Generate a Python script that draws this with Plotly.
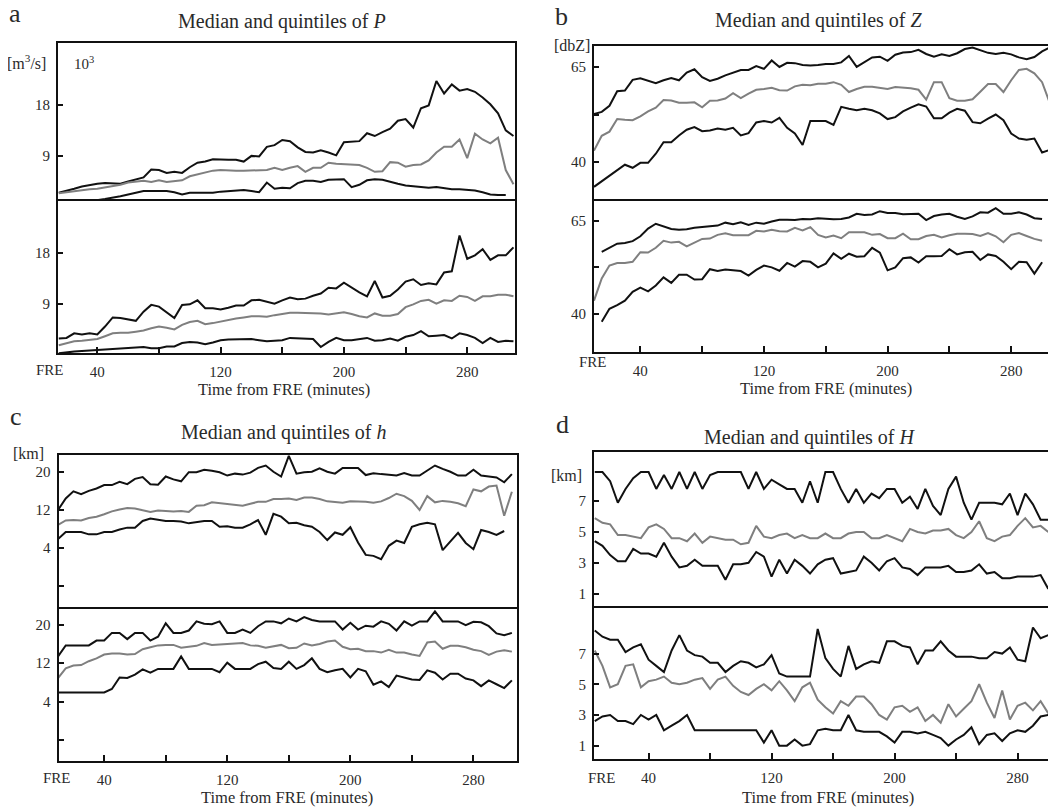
import plotly.graph_objects as go

W, H = 1056, 808          # reference picture size
OFF = 8                   # page body margin in the browser
FW, FH = W - OFF, H - OFF  # figure size so that it ends at the window edge

# time axes (minutes from FRE)
T_A = list(range(15, 311, 5))
T_B = list(range(10, 306, 5))
T_C = list(range(10, 306, 5))
T_D = list(range(5, 301, 5))

# ---- panel a : P [10^3 m3/s] ----
A_TOP_HI = [2.5, 2.8, 3.2, 3.6, 3.9, 4.1, 4.2, 4.1, 4.1, 4.5, 4.9, 5.2, 6.6, 6.5, 6.0,
            6.2, 6.0, 7.0, 7.8, 8.0, 8.4, 8.3, 8.3, 8.3, 8.0, 9.0, 8.9, 10.6, 10.9, 11.8,
            11.6, 10.5, 9.7, 9.6, 10.0, 9.6, 9.1, 11.4, 11.5, 11.6, 13.0, 12.5, 13.2, 13.8, 15.2,
            15.5, 14.0, 17.4, 17.9, 22.2, 20.0, 21.6, 20.5, 20.8, 20.3, 19.3, 18.1, 16.5, 13.5, 12.5]
A_TOP_MED = [2.4, 2.6, 2.7, 2.9, 3.1, 3.2, 3.4, 3.6, 3.9, 4.3, 4.5, 4.6, 4.4, 4.7, 4.4,
             4.5, 4.7, 5.4, 5.7, 6.0, 6.4, 6.5, 6.4, 6.4, 6.4, 6.4, 6.5, 6.5, 6.9, 6.5,
             6.9, 7.2, 6.2, 6.9, 6.9, 7.8, 7.6, 7.5, 7.4, 7.4, 6.9, 6.2, 6.3, 7.9, 7.8,
             7.1, 7.4, 7.5, 8.2, 9.6, 10.6, 10.6, 11.9, 8.6, 12.9, 11.9, 11.2, 12.2, 6.5, 4.0]
A_TOP_LO = [1.0, 1.0, 1.1, 1.1, 1.2, 1.2, 1.4, 1.6, 1.9, 2.2, 2.5, 2.8, 2.8, 2.8, 2.8,
            2.6, 2.2, 2.5, 2.5, 2.4, 2.5, 2.7, 2.8, 2.9, 3.0, 2.8, 2.6, 4.3, 3.2, 3.4,
            3.3, 4.2, 4.6, 4.6, 4.4, 4.8, 4.9, 4.9, 3.5, 3.9, 4.7, 4.9, 4.8, 4.4, 4.1,
            3.8, 3.7, 3.5, 3.4, 3.5, 3.3, 3.1, 3.1, 3.0, 2.9, 2.6, 2.2, 2.1, 2.1, None]
A_BOT_HI = [2.9, 3.0, 3.8, 3.6, 3.8, 3.6, 5.0, 6.6, 6.5, 6.3, 6.0, 7.6, 8.8, 8.5, 7.5,
            6.5, 8.8, 8.9, 9.6, 8.2, 8.2, 8.0, 8.3, 8.7, 8.7, 9.6, 9.7, 9.3, 9.0, 9.6,
            10.1, 9.8, 9.9, 10.4, 10.8, 11.8, 11.7, 12.7, 11.8, 11.0, 10.3, 13.0, 10.1, 10.4, 11.5,
            12.9, 13.3, 12.3, 12.6, 12.4, 14.5, 14.7, 21.0, 16.9, 17.5, 18.6, 16.7, 17.5, 17.5, 18.9]
A_BOT_MED = [1.7, 2.1, 2.4, 2.5, 2.6, 2.8, 3.3, 3.8, 3.9, 3.9, 4.1, 4.3, 4.7, 5.0, 4.8,
             4.5, 5.3, 5.8, 6.0, 5.4, 5.6, 5.9, 6.1, 6.4, 6.6, 6.8, 6.8, 6.7, 7.0, 7.2,
             7.4, 7.4, 7.4, 7.4, 7.3, 7.1, 7.3, 7.5, 7.2, 6.8, 6.6, 7.3, 6.9, 6.9, 7.2,
             8.4, 8.9, 9.5, 9.7, 9.0, 9.6, 9.5, 10.4, 10.2, 9.5, 10.3, 10.3, 10.6, 10.6, 10.3]
A_BOT_LO = [0.3, 0.5, 0.6, 0.7, 0.8, 0.8, 0.9, 1.0, 1.1, 1.2, 1.3, 1.4, 1.2, 1.2, 1.5,
            1.5, 2.1, 2.3, 2.2, 1.9, 2.2, 2.6, 2.7, 2.7, 2.7, 2.8, 2.6, 2.4, 2.5, 2.6,
            3.0, 2.9, 2.9, 2.8, 1.4, 2.3, 3.0, 2.6, 2.6, 2.8, 3.0, 2.5, 2.6, 2.9, 2.5,
            3.2, 3.5, 4.2, 3.3, 3.4, 3.5, 2.9, 3.8, 3.5, 3.0, 2.1, 3.0, 2.3, 2.5, 2.4]

# ---- panel b : Z [dbZ] ----
B_TOP_HI = [52.6, 53.2, 54.8, 58.6, 58.8, 61.6, 62.0, 61.3, 60.7, 61.5, 62.1, 61.5, 63.5, 64.4, 62.3,
            61.3, 61.9, 62.8, 63.6, 64.2, 64.2, 65.2, 64.5, 66.7, 65.0, 66.1, 66.0, 65.5, 65.4, 65.5,
            65.8, 65.8, 66.2, 67.9, 65.0, 66.2, 67.5, 67.7, 66.6, 68.2, 68.8, 68.9, 69.5, 68.4, 67.7,
            68.3, 67.9, 68.6, 69.7, 70.1, 69.3, 68.7, 68.4, 68.7, 68.3, 67.5, 67.0, 67.6, 69.1, 70.1]
B_TOP_MED = [43.0, 46.9, 48.0, 51.3, 51.1, 51.0, 52.0, 53.3, 54.3, 56.3, 56.2, 55.6, 55.6, 55.7, 54.4,
             56.1, 56.2, 56.7, 58.1, 56.8, 58.0, 59.0, 59.2, 59.5, 58.9, 58.8, 59.9, 60.3, 60.2, 60.6,
             60.6, 61.0, 60.3, 58.4, 59.2, 59.8, 59.8, 59.6, 59.2, 59.7, 59.6, 59.4, 59.0, 56.4, 61.0,
             61.0, 56.8, 56.1, 56.1, 56.5, 58.5, 60.5, 60.5, 58.4, 61.5, 64.2, 64.5, 63.3, 61.0, 55.5]
B_TOP_LO = [33.5, 35.0, 36.3, 37.9, 39.3, 38.5, 39.8, 39.8, 42.2, 45.2, 45.2, 47.0, 48.5, 49.2, 48.1,
            48.3, 48.8, 48.5, 49.0, 47.0, 47.6, 50.4, 50.8, 50.4, 51.6, 49.0, 47.5, 44.5, 50.8, 50.8,
            50.8, 49.8, 54.5, 54.0, 53.6, 54.0, 53.6, 52.8, 51.3, 51.8, 53.3, 54.3, 55.2, 54.6, 51.5,
            51.5, 53.0, 54.0, 53.5, 50.5, 50.2, 51.4, 52.5, 51.0, 47.5, 46.2, 45.9, 46.2, 42.5, 43.2]
B_BOT_HI = [None, 56.7, 57.8, 58.9, 59.1, 59.6, 60.9, 63.0, 64.3, 63.6, 62.9, 62.7, 62.8, 63.2, 63.4,
            63.7, 63.8, 64.6, 64.2, 64.7, 64.0, 64.6, 64.3, 64.9, 65.4, 65.4, 65.3, 65.6, 65.5, 65.8,
            65.6, 65.5, 65.6, 66.0, 67.0, 66.7, 66.8, 67.7, 67.2, 67.2, 66.9, 67.0, 67.0, 65.3, 66.4,
            66.8, 67.0, 66.2, 65.6, 66.3, 67.4, 67.3, 68.5, 67.0, 67.0, 67.4, 66.8, 65.8, 65.6, None]
B_BOT_MED = [43.5, 49.5, 53.0, 53.7, 53.7, 54.0, 56.6, 56.5, 57.8, 59.7, 59.2, 59.4, 58.2, 59.2, 60.2,
             60.3, 61.3, 61.7, 61.2, 61.2, 61.2, 62.4, 62.2, 62.7, 62.3, 62.2, 63.2, 62.5, 63.4, 61.3,
             60.6, 61.1, 60.4, 62.0, 62.1, 62.0, 61.3, 61.5, 60.4, 60.4, 61.6, 60.1, 60.1, 61.0, 61.3,
             60.6, 61.2, 61.6, 61.6, 61.5, 61.0, 61.8, 60.9, 59.3, 61.3, 61.8, 61.0, 60.2, 59.7, None]
B_BOT_LO = [None, 37.8, 41.3, 42.3, 43.5, 45.9, 47.0, 46.0, 47.6, 49.8, 48.3, 50.5, 50.5, 49.2, 49.3,
            52.0, 51.5, 51.9, 51.8, 51.5, 50.3, 51.8, 53.0, 52.5, 51.6, 53.7, 52.7, 54.2, 54.0, 52.5,
            53.5, 56.3, 54.8, 56.2, 55.4, 55.5, 57.8, 56.5, 51.7, 52.5, 55.0, 55.2, 53.8, 55.5, 55.5,
            55.6, 57.4, 56.0, 56.6, 56.7, 54.5, 56.0, 55.6, 54.0, 52.0, 54.0, 53.9, 50.8, 53.9, None]

# ---- panel c : h [km] ----
C_TOP_HI = [12.0, 14.4, 15.9, 15.3, 16.0, 16.5, 17.2, 17.2, 17.9, 17.4, 18.5, 18.9, 17.4, 17.3, 19.0,
            18.4, 18.0, 19.9, 19.9, 20.4, 20.2, 19.9, 19.2, 19.6, 19.4, 19.8, 20.8, 21.3, 20.0, 19.0,
            23.3, 19.6, 19.9, 20.0, 20.7, 20.0, 19.6, 20.8, 20.8, 20.8, 19.3, 19.7, 19.5, 19.4, 19.2,
            19.7, 19.2, 19.2, 20.2, 21.3, 20.6, 20.0, 19.2, 19.2, 20.4, 19.2, 19.0, 18.8, 17.8, 19.5]
C_TOP_MED = [8.9, 9.8, 9.9, 9.8, 10.3, 10.6, 11.1, 11.7, 12.1, 12.4, 12.3, 12.0, 11.6, 11.9, 11.8,
             11.7, 11.8, 11.6, 12.9, 13.0, 13.6, 13.4, 13.2, 13.0, 12.9, 13.3, 13.7, 13.7, 14.3, 14.3,
             14.4, 14.1, 14.6, 14.6, 14.3, 13.8, 13.7, 13.5, 13.8, 13.8, 13.7, 13.5, 13.8, 14.5, 15.4,
             14.9, 13.9, 12.0, 14.9, 13.6, 13.9, 13.7, 13.4, 12.8, 16.3, 15.9, 16.9, 17.1, 10.8, 15.8]
C_TOP_LO = [5.9, 7.4, 7.4, 7.4, 6.9, 6.9, 7.4, 7.4, 7.9, 8.3, 8.3, 9.7, 10.2, 9.9, 9.7,
            9.7, 9.6, 9.2, 9.5, 9.7, 9.7, 8.5, 8.6, 8.3, 8.3, 9.0, 9.9, 6.8, 11.2, 10.6,
            9.2, 9.3, 8.8, 8.5, 7.4, 5.7, 7.3, 6.8, 8.4, 5.2, 2.6, 2.4, 1.7, 4.5, 5.6,
            5.1, 8.5, 9.0, 9.3, 9.0, 3.6, 5.4, 7.2, 5.1, 3.8, 7.8, 7.4, 6.8, 7.6, None]
C_BOT_HI = [13.4, 15.7, 15.7, 15.7, 15.7, 16.7, 16.7, 18.3, 18.3, 17.0, 18.3, 18.3, 16.7, 17.5, 20.3,
            18.3, 18.3, 18.8, 20.7, 20.2, 20.1, 20.7, 18.3, 18.3, 19.0, 18.3, 19.7, 20.7, 20.7, 20.3,
            21.3, 20.7, 21.6, 21.0, 20.7, 20.7, 20.7, 19.0, 20.4, 19.0, 19.8, 19.6, 20.7, 20.2, 18.8,
            20.7, 19.8, 20.7, 20.7, 22.8, 20.7, 20.7, 20.7, 19.9, 20.6, 20.5, 19.7, 18.2, 17.8, 18.3]
C_BOT_MED = [8.9, 10.9, 11.5, 11.6, 12.4, 13.0, 13.8, 14.0, 14.0, 13.8, 13.9, 14.9, 15.3, 15.7, 15.8,
             15.8, 15.2, 15.4, 15.6, 16.2, 15.8, 15.9, 16.0, 16.1, 16.2, 15.7, 15.6, 15.2, 15.5, 15.8,
             15.1, 15.2, 16.1, 15.7, 16.0, 16.5, 16.7, 15.4, 14.9, 15.0, 14.5, 14.5, 14.2, 14.8, 14.2,
             14.2, 13.8, 13.5, 16.3, 16.5, 15.0, 15.6, 15.6, 15.3, 14.8, 14.5, 13.7, 14.4, 14.7, 14.4]
C_BOT_LO = [5.9, 5.9, 5.9, 5.9, 5.9, 5.9, 5.9, 6.6, 9.0, 8.9, 9.6, 10.7, 10.0, 10.8, 10.8,
            10.8, 13.4, 10.8, 10.8, 10.8, 10.8, 10.1, 12.1, 10.8, 10.8, 10.8, 11.8, 12.3, 11.0, 10.8,
            12.3, 10.8, 11.6, 13.0, 10.8, 10.1, 10.5, 10.8, 9.0, 10.8, 10.3, 7.5, 8.2, 7.0, 9.4,
            9.0, 8.6, 8.5, 10.5, 10.0, 8.6, 9.8, 9.8, 8.8, 8.4, 7.2, 8.4, 7.6, 6.8, 8.4]

# ---- panel d : H [km] ----
D_TOP_HI = [8.9, 8.9, 8.3, 6.9, 7.8, 8.5, 8.9, 8.9, 7.8, 8.7, 7.8, 8.9, 7.8, 8.9, 7.8,
            8.7, 8.9, 8.9, 8.9, 8.9, 7.8, 8.9, 7.8, 8.4, 8.1, 7.8, 7.8, 6.9, 8.3, 6.9,
            8.9, 8.9, 7.8, 6.9, 7.8, 6.9, 7.5, 7.2, 7.8, 7.8, 6.9, 7.3, 6.5, 7.8, 6.7,
            6.1, 7.8, 8.6, 6.9, 5.8, 6.9, 6.9, 6.9, 6.8, 7.5, 6.1, 7.5, 6.8, 5.8, 5.8]
D_TOP_MED = [5.9, 5.6, 5.5, 4.8, 4.8, 4.7, 4.6, 5.3, 5.5, 5.2, 4.6, 4.6, 4.4, 4.9, 4.3,
             4.7, 4.6, 4.5, 4.5, 4.2, 4.3, 5.4, 4.7, 4.6, 4.8, 4.9, 4.6, 4.8, 4.6, 4.6,
             4.9, 4.6, 4.6, 4.9, 5.0, 5.0, 4.6, 4.6, 4.8, 4.6, 4.4, 5.2, 5.0, 4.9, 5.1,
             5.1, 5.2, 4.8, 4.6, 5.0, 5.7, 4.6, 4.4, 4.7, 4.8, 5.4, 5.9, 5.3, 5.4, 5.0]
D_TOP_LO = [4.4, 4.1, 3.5, 3.1, 3.1, 3.9, 3.6, 3.6, 3.4, 4.3, 3.4, 2.7, 2.8, 3.2, 2.8,
            2.8, 2.8, 1.9, 2.9, 2.9, 3.0, 3.7, 3.4, 2.1, 3.2, 2.3, 3.2, 2.8, 2.3, 2.9,
            3.2, 3.3, 2.3, 2.4, 2.5, 3.4, 3.0, 2.5, 3.1, 3.3, 2.7, 2.6, 2.2, 2.7, 2.7,
            2.7, 2.8, 2.4, 2.4, 2.5, 2.9, 2.3, 2.4, 2.0, 2.0, 2.1, 2.1, 2.1, 2.2, 1.3]
D_BOT_HI = [8.5, 8.1, 7.9, 7.9, 7.1, 7.4, 7.6, 6.6, 6.2, 5.8, 7.2, 8.2, 7.2, 6.9, 6.8,
            6.4, 6.4, 5.8, 6.2, 6.5, 6.4, 6.1, 6.3, 6.9, 5.7, 5.5, 5.5, 5.5, 5.5, 8.6,
            6.7, 6.0, 5.5, 7.5, 6.0, 6.3, 6.5, 6.4, 7.8, 7.8, 7.5, 7.4, 6.3, 7.2, 7.2,
            7.8, 7.2, 6.8, 6.8, 6.8, 6.7, 6.7, 7.1, 7.0, 7.4, 6.6, 6.5, 8.7, 8.0, 8.2]
D_BOT_MED = [7.2, 6.2, 4.8, 5.0, 6.2, 6.3, 4.8, 5.2, 5.3, 5.5, 5.1, 5.0, 5.1, 5.3, 5.4,
             4.7, 5.3, 5.5, 4.9, 4.5, 4.3, 4.7, 5.0, 4.6, 5.2, 4.6, 3.9, 4.8, 5.1, 4.0,
             3.5, 3.1, 3.9, 3.6, 4.2, 4.2, 3.7, 3.0, 2.7, 3.5, 3.6, 3.2, 3.5, 2.6, 3.0,
             2.5, 3.7, 2.9, 3.4, 3.9, 5.0, 3.8, 2.8, 4.6, 2.7, 3.6, 3.8, 3.3, 3.9, 3.1]
D_BOT_LO = [2.6, 2.9, 3.0, 2.6, 2.6, 2.4, 3.0, 2.7, 3.0, 2.0, 2.3, 2.6, 3.0, 2.0, 2.0,
            2.0, 2.0, 2.0, 2.0, 2.0, 2.0, 2.0, 1.2, 2.0, 1.0, 1.0, 1.4, 1.0, 1.1, 2.0,
            2.1, 2.0, 2.0, 3.0, 2.0, 1.9, 1.9, 1.9, 1.6, 1.2, 1.9, 1.9, 1.8, 1.9, 1.7,
            1.5, 1.0, 1.4, 1.7, 2.2, 1.1, 1.7, 1.8, 1.3, 1.8, 2.0, 1.9, 2.3, 2.9, 3.0]

X_TICKS = [40, 120, 200, 280]
X_MINOR = [80, 160, 240]

BLACK = "#111111"
GRAY = "#7f7f7f"
SERIF = "Liberation Serif, Times New Roman, serif"
TXT = "#2a2a2a"


def fx(px):
    return (px - OFF) / FW


def fy(py):
    return 1 - (py - OFF) / FH


panels = [
    dict(t=T_A, xr=[14.5, 311], xd=(58, 515), yt=(43, 199), yb=(199, 353),
         yr_top=[1.4, 28.9], yr_bot=[0.35, 27.4],
         ytv=[9, 18], ymin=[], right=True,
         top=(A_TOP_HI, A_TOP_MED, A_TOP_LO), bot=(A_BOT_HI, A_BOT_MED, A_BOT_LO)),
    dict(t=T_B, xr=[10, 309], xd=(594, 1056), yt=(46, 199), yb=(199, 352),
         yr_top=[30.3, 70.5], yr_bot=[29.6, 71.0],
         ytv=[40, 65], ymin=[52.5], right=False,
         top=(B_TOP_HI, B_TOP_MED, B_TOP_LO), bot=(B_BOT_HI, B_BOT_MED, B_BOT_LO)),
    dict(t=T_C, xr=[10.3, 308], xd=(58.5, 516.5), yt=(455, 607), yb=(607, 761),
         yr_top=[-8.3, 23.5], yr_bot=[-8.4, 23.7],
         ytv=[4, 12, 20], ymin=[-4], right=True,
         top=(C_TOP_HI, C_TOP_MED, C_TOP_LO), bot=(C_BOT_HI, C_BOT_MED, C_BOT_LO)),
    dict(t=T_D, xr=[4.5, 305], xd=(594, 1056), yt=(452, 606), yb=(606, 759),
         yr_top=[0.19, 10.2], yr_bot=[0.13, 10.1],
         ytv=[1, 3, 5, 7], ymin=[], right=False,
         top=(D_TOP_HI, D_TOP_MED, D_TOP_LO), bot=(D_BOT_HI, D_BOT_MED, D_BOT_LO)),
]

for p in panels:
    for arr in p["top"] + p["bot"]:
        assert len(arr) == len(p["t"]), (len(arr), len(p["t"]))

TICKFONT = dict(family=SERIF, size=15, color=TXT)

fig = go.Figure()
layout = {}
n = 0
for p in panels:
    for which, (y0, y1), yr in (("top", p["yt"], p["yr_top"]), ("bot", p["yb"], p["yr_bot"])):
        n += 1
        xa = "xaxis" if n == 1 else f"xaxis{n}"
        ya = "yaxis" if n == 1 else f"yaxis{n}"
        xr_ref = "x" if n == 1 else f"x{n}"
        yr_ref = "y" if n == 1 else f"y{n}"
        is_bot = which == "bot"
        xaxis = dict(
            domain=[fx(p["xd"][0]), min(1.0, fx(p["xd"][1]))],
            range=p["xr"], anchor=yr_ref,
            showline=True, linecolor=BLACK, linewidth=2,
            mirror=not is_bot,          # separator drawn once (by the upper plot)
            showgrid=False, zeroline=False,
            showticklabels=is_bot,
        )
        if is_bot:
            xaxis.update(
                tickmode="array", tickvals=X_TICKS,
                ticks="inside", ticklen=6, tickwidth=1.5, tickcolor=BLACK,
                tickfont=TICKFONT, ticklabelstandoff=4,
                minor=dict(tickmode="array", tickvals=X_MINOR, ticks="inside",
                           ticklen=6, tickwidth=1.5, tickcolor=BLACK, showgrid=False),
            )
        else:
            xaxis.update(ticks="", tickmode="array", tickvals=[])
        layout[xa] = xaxis
        yaxis = dict(
            domain=[fy(y1), fy(y0)],
            range=yr, anchor=xr_ref,
            showline=True, linecolor=BLACK, linewidth=2,
            mirror=True if p["right"] else False,
            showgrid=False, zeroline=False,
            tickmode="array", tickvals=p["ytv"],
            ticks="inside", ticklen=5, tickwidth=1.5, tickcolor=BLACK,
            tickfont=TICKFONT, ticklabelstandoff=3,
        )
        if p["ymin"]:
            yaxis["minor"] = dict(tickmode="array", tickvals=p["ymin"], ticks="inside",
                                  ticklen=5, tickwidth=1.5, tickcolor=BLACK, showgrid=False)
        layout[ya] = yaxis
        hi, med, lo = p[which]
        for arr, col in ((lo, BLACK), (hi, BLACK), (med, GRAY)):
            fig.add_trace(go.Scatter(
                x=p["t"], y=arr, mode="lines", xaxis=xr_ref, yaxis=yr_ref,
                line=dict(color=col, width=2), connectgaps=False,
                hoverinfo="skip", showlegend=False))

ann = []


def text(s, x, y, size=15):
    ann.append(dict(text=s, x=fx(x), y=fy(y), xref="paper", yref="paper",
                    xanchor="center", yanchor="middle", showarrow=False,
                    font=dict(family=SERIF, size=size, color=TXT)))


# panel letters
text("a", 15, 14, 26)
text("b", 561, 16, 26)
text("c", 16, 416, 26)
text("d", 562, 424, 26)
# titles
text("Median and quintiles of <i>P</i>", 282, 22, 20)
text("Median and quintiles of <i>Z</i>", 819, 21, 20)
text("Median and quintiles of <i>h</i>", 284, 432, 20)
text("Median and quintiles of <i>H</i>", 810, 437, 20)
# units
text("[m<sup>3</sup>/s]", 26, 62, 16)
text("10<sup>3</sup>", 84, 63, 15)
text("[dbZ]", 572, 45, 16)
text("[km]", 28, 453, 16)
text("[km]", 566, 475, 16)
# FRE labels
text("FRE", 50, 370, 15)
text("FRE", 593, 362, 15)
text("FRE", 57, 778, 15)
text("FRE", 602, 778, 15)
# x titles
text("Time from FRE (minutes)", 284, 389, 16.5)
text("Time from FRE (minutes)", 826, 388, 16.5)
text("Time from FRE (minutes)", 287, 797, 16.5)
text("Time from FRE (minutes)", 828, 797, 16.5)

fig.update_layout(
    width=FW, height=FH,
    margin=dict(l=0, r=0, t=0, b=0),
    paper_bgcolor="white", plot_bgcolor="white",
    showlegend=False,
    annotations=ann,
    **layout,
)

fig.write_html("out.html")
